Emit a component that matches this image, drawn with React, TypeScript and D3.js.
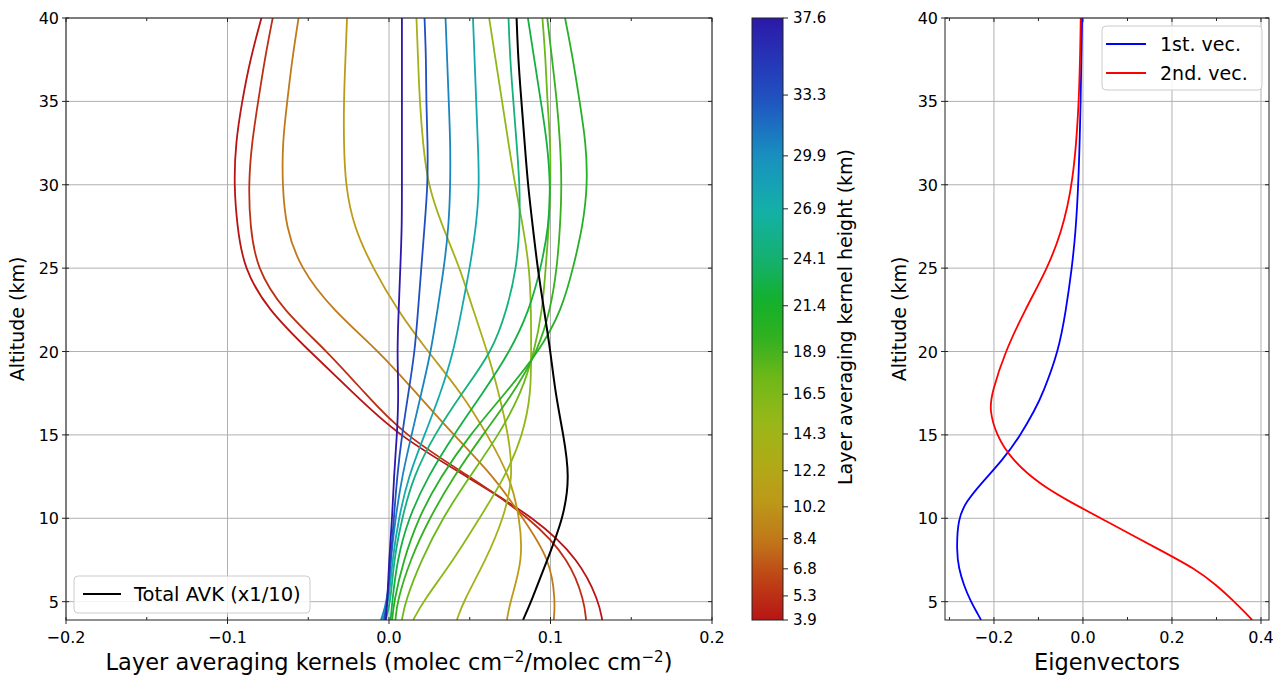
import React from "react";
import * as d3 from "d3";

const alts = [3.9, 5, 7.5, 10, 12.5, 15, 17.5, 20, 22.5, 25, 27.5, 30, 32.5, 35, 37.5, 40];
const kernelHeights = [3.9, 5.3, 8.4, 10.7, 13.6, 15.6, 17.5, 19.5, 20.5, 22.5, 24.8, 27.5, 30.5, 33.3, 37.6];
const kernels: number[][] = [
  [0.132, 0.130, 0.118, 0.091, 0.048, 0.005, -0.022, -0.049, -0.075, -0.090, -0.094, -0.096, -0.095, -0.091, -0.086, -0.079],
  [0.122, 0.121, 0.112, 0.088, 0.050, 0.009, -0.015, -0.038, -0.066, -0.082, -0.086, -0.087, -0.085, -0.081, -0.077, -0.072],
  [0.102, 0.103, 0.100, 0.083, 0.065, 0.040, 0.017, -0.006, -0.035, -0.055, -0.064, -0.066, -0.066, -0.063, -0.060, -0.056],
  [0.073, 0.075, 0.083, 0.081, 0.075, 0.061, 0.045, 0.024, 0.005, -0.010, -0.022, -0.027, -0.028, -0.028, -0.027, -0.026],
  [0.042, 0.046, 0.060, 0.071, 0.077, 0.074, 0.068, 0.061, 0.052, 0.044, 0.033, 0.024, 0.021, 0.019, 0.018, 0.017],
  [0.015, 0.021, 0.040, 0.056, 0.072, 0.083, 0.088, 0.088, 0.088, 0.087, 0.083, 0.078, 0.074, 0.070, 0.066, 0.062],
  [0.008, 0.010, 0.020, 0.033, 0.050, 0.068, 0.082, 0.090, 0.095, 0.097, 0.099, 0.100, 0.100, 0.098, 0.097, 0.095],
  [0.004, 0.005, 0.013, 0.025, 0.040, 0.058, 0.077, 0.092, 0.100, 0.104, 0.106, 0.107, 0.106, 0.104, 0.101, 0.098],
  [0.002, 0.003, 0.009, 0.018, 0.032, 0.050, 0.072, 0.093, 0.107, 0.114, 0.120, 0.123, 0.122, 0.118, 0.114, 0.109],
  [0.001, 0.002, 0.005, 0.012, 0.024, 0.040, 0.058, 0.075, 0.087, 0.094, 0.099, 0.100, 0.098, 0.094, 0.090, 0.086],
  [-0.002, 0.001, 0.003, 0.008, 0.015, 0.028, 0.045, 0.064, 0.073, 0.079, 0.081, 0.081, 0.079, 0.077, 0.075, 0.074],
  [-0.004, 0.000, 0.002, 0.006, 0.012, 0.022, 0.032, 0.040, 0.045, 0.050, 0.054, 0.056, 0.055, 0.054, 0.053, 0.052],
  [-0.005, -0.001, 0.001, 0.004, 0.008, 0.014, 0.020, 0.026, 0.030, 0.034, 0.037, 0.038, 0.038, 0.037, 0.036, 0.035],
  [-0.003, -0.001, 0.001, 0.003, 0.005, 0.008, 0.012, 0.016, 0.018, 0.020, 0.022, 0.024, 0.024, 0.023, 0.023, 0.022],
  [-0.002, -0.001, 0.000, 0.002, 0.003, 0.005, 0.006, 0.005, 0.006, 0.007, 0.008, 0.008, 0.008, 0.008, 0.008, 0.008],
];
const totalAvk = [0.083, 0.088, 0.098, 0.108, 0.112, 0.108, 0.103, 0.100, 0.096, 0.092, 0.089, 0.086, 0.084, 0.082, 0.080, 0.079];

const eigAlts = [3.9, 4.2, 5, 6, 7, 8, 10, 11, 12, 13.5, 15, 16.5, 17.5, 20, 22.5, 25, 27, 30, 35, 40];
const vec1 = [-0.229, -0.235, -0.252, -0.268, -0.279, -0.284, -0.281, -0.262, -0.232, -0.18, -0.14, -0.108, -0.09, -0.055, -0.038, -0.025, -0.017, -0.01, -0.005, -0.002];
const vec2 = [0.38, 0.37, 0.34, 0.30, 0.25, 0.18, 0.04, -0.03, -0.095, -0.16, -0.195, -0.21, -0.205, -0.175, -0.13, -0.08, -0.05, -0.022, -0.008, -0.005];

const cbTicks = [3.9, 5.3, 6.8, 8.4, 10.2, 12.2, 14.3, 16.5, 18.9, 21.4, 24.1, 26.9, 29.9, 33.3, 37.6];
const cbFrac = [0, 0.04, 0.085, 0.135, 0.188, 0.248, 0.309, 0.375, 0.445, 0.522, 0.6, 0.683, 0.771, 0.872, 1];
const cmapStops = [0, 0.07, 0.135, 0.2, 0.26, 0.33, 0.4, 0.47, 0.53, 0.6, 0.68, 0.77, 0.87, 1];
const cmapColors = ["#b81414", "#bf4416", "#c07a1a", "#bc9a18", "#b0aa18", "#98b818", "#70b818", "#30b020", "#14b02c", "#14b070", "#14b0a8", "#1890c0", "#2050c0", "#2c18aa"];

const FONT = "DejaVu Sans, sans-serif";
const cmap = d3.scaleLinear<string>().domain(cmapStops).range(cmapColors).interpolate(d3.interpolateRgb);
const hToFrac = d3.scaleLinear().domain(cbTicks).range(cbFrac);
const fmt = (v: number) => (v < 0 ? "\u2212" : "") + Math.abs(v).toFixed(1);

export default function App() {
  const top = 18, bot = 620;
  const y = d3.scaleLinear().domain([3.9, 40]).range([bot, top]);
  const x1 = d3.scaleLinear().domain([-0.2, 0.2]).range([66, 712]);
  const x2 = d3.scaleLinear().domain([-0.31, 0.418]).range([945, 1269]);
  const yTicks = [5, 10, 15, 20, 25, 30, 35, 40];
  const line = (xs: d3.ScaleLinear<number, number>, ys: number[]) =>
    d3.line<number>().x((d) => xs(d)).y((_, i) => y(ys[i])).curve(d3.curveBasis);
  const cbX = 752, cbW = 31;
  const cbY = d3.scaleLinear().domain([0, 1]).range([bot, top]);

  const axis = (xs: d3.ScaleLinear<number, number>, xt: number[], xm: number[], labelX: number) => {
    const [l, r] = xs.range();
    return (
      <g fontFamily={FONT}>
        {xt.map((t) => <line key={"gx" + t} x1={xs(t)} x2={xs(t)} y1={top} y2={bot} stroke="#b0b0b0" strokeWidth={1} />)}
        {yTicks.map((t) => <line key={"gy" + t} x1={l} x2={r} y1={y(t)} y2={y(t)} stroke="#b0b0b0" strokeWidth={1} />)}
        {xt.map((t) => (
          <g key={"tx" + t}>
            <line x1={xs(t)} x2={xs(t)} y1={bot + 4} y2={bot - 3} stroke="#222" />
            <line x1={xs(t)} x2={xs(t)} y1={top} y2={top + 4} stroke="#222" />
            <text x={xs(t)} y={bot + 23} fontSize={16} textAnchor="middle">{fmt(t)}</text>
          </g>
        ))}
        {xm.map((t) => (
          <g key={"mx" + t}>
            <line x1={xs(t)} x2={xs(t)} y1={bot} y2={bot - 3} stroke="#222" />
            <line x1={xs(t)} x2={xs(t)} y1={top} y2={top + 3} stroke="#222" />
          </g>
        ))}
        {yTicks.map((t) => (
          <g key={"ty" + t}>
            <line x1={l - 4} x2={l + 3} y1={y(t)} y2={y(t)} stroke="#222" />
            <line x1={r} x2={r - 4} y1={y(t)} y2={y(t)} stroke="#222" />
            <text x={l - 7} y={y(t) + 6} fontSize={16} textAnchor="end">{t}</text>
          </g>
        ))}
        <text transform={`translate(${labelX},${(top + bot) / 2}) rotate(-90)`} fontSize={19} textAnchor="middle">Altitude (km)</text>
      </g>
    );
  };

  return (
    <svg width={1273} height={675} style={{ position: "absolute", left: 0, top: 0 }}>
      <defs>
        <linearGradient id="cb" x1="0" y1="1" x2="0" y2="0">
          {d3.range(0, 1.0001, 0.02).map((f) => <stop key={f} offset={f} stopColor={cmap(f)} />)}
        </linearGradient>
        <clipPath id="c1"><rect x={66} y={top} width={646} height={bot - top} /></clipPath>
        <clipPath id="c2"><rect x={945} y={top} width={324} height={bot - top} /></clipPath>
      </defs>
      <rect width={1273} height={675} fill="white" />
      {axis(x1, [-0.2, -0.1, 0, 0.1, 0.2], [-0.15, -0.05, 0.05, 0.15], 24)}
      <g clipPath="url(#c1)" fill="none">
        {kernels.map((k, i) => (
          <path key={i} d={line(x1, alts)(k) || ""} stroke={cmap(hToFrac(kernelHeights[i]))} strokeWidth={1.8} />
        ))}
        <path d={line(x1, alts)(totalAvk) || ""} stroke="black" strokeWidth={2} />
      </g>
      <rect x={66} y={top} width={646} height={bot - top} fill="none" stroke="#222" />
      <text x={389} y={670} fontSize={22.5} fontFamily={FONT} textAnchor="middle">
        Layer averaging kernels (molec cm<tspan dy={-8} fontSize={15}>−2</tspan><tspan dy={8}>/molec cm</tspan><tspan dy={-8} fontSize={15}>−2</tspan><tspan dy={8}>)</tspan>
      </text>
      <g fontFamily={FONT}>
        <rect x={74} y={576} width={236} height={37} rx={4} fill="white" fillOpacity={0.85} stroke="#ccc" />
        <line x1={83} x2={121} y1={594} y2={594} stroke="black" strokeWidth={2} />
        <text x={134} y={601} fontSize={19.5}>Total AVK (x1/10)</text>
      </g>

      <rect x={cbX} y={top} width={cbW} height={bot - top} fill="url(#cb)" stroke="#222" />
      <g fontFamily={FONT}>
        {cbTicks.map((t, i) => (
          <g key={t}>
            <line x1={cbX + cbW} x2={cbX + cbW + 5} y1={cbY(cbFrac[i])} y2={cbY(cbFrac[i])} stroke="#222" />
            <text x={cbX + cbW + 10} y={cbY(cbFrac[i]) + 5} fontSize={15}>{t.toFixed(1)}</text>
          </g>
        ))}
        <text transform={`translate(852,${(top + bot) / 2 - 2}) rotate(-90)`} fontSize={19} textAnchor="middle">Layer averaging kernel height (km)</text>
      </g>

      {axis(x2, [-0.2, 0, 0.2, 0.4], [-0.3, -0.1, 0.1, 0.3], 906)}
      <g clipPath="url(#c2)" fill="none">
        <path d={line(x2, eigAlts)(vec1) || ""} stroke="#0000ff" strokeWidth={1.8} />
        <path d={line(x2, eigAlts)(vec2) || ""} stroke="#ff0000" strokeWidth={1.8} />
      </g>
      <rect x={945} y={top} width={324} height={bot - top} fill="none" stroke="#222" />
      <text x={1107} y={670} fontSize={22.5} fontFamily={FONT} textAnchor="middle">Eigenvectors</text>
      <g fontFamily={FONT}>
        <rect x={1102} y={26} width={160} height={64} rx={4} fill="white" fillOpacity={0.85} stroke="#ccc" />
        <line x1={1106} x2={1146} y1={44} y2={44} stroke="#0000ff" strokeWidth={2} />
        <text x={1160} y={51} fontSize={19}>1st. vec.</text>
        <line x1={1106} x2={1146} y1={73} y2={73} stroke="#ff0000" strokeWidth={2} />
        <text x={1160} y={80} fontSize={19}>2nd. vec.</text>
      </g>
    </svg>
  );
}
